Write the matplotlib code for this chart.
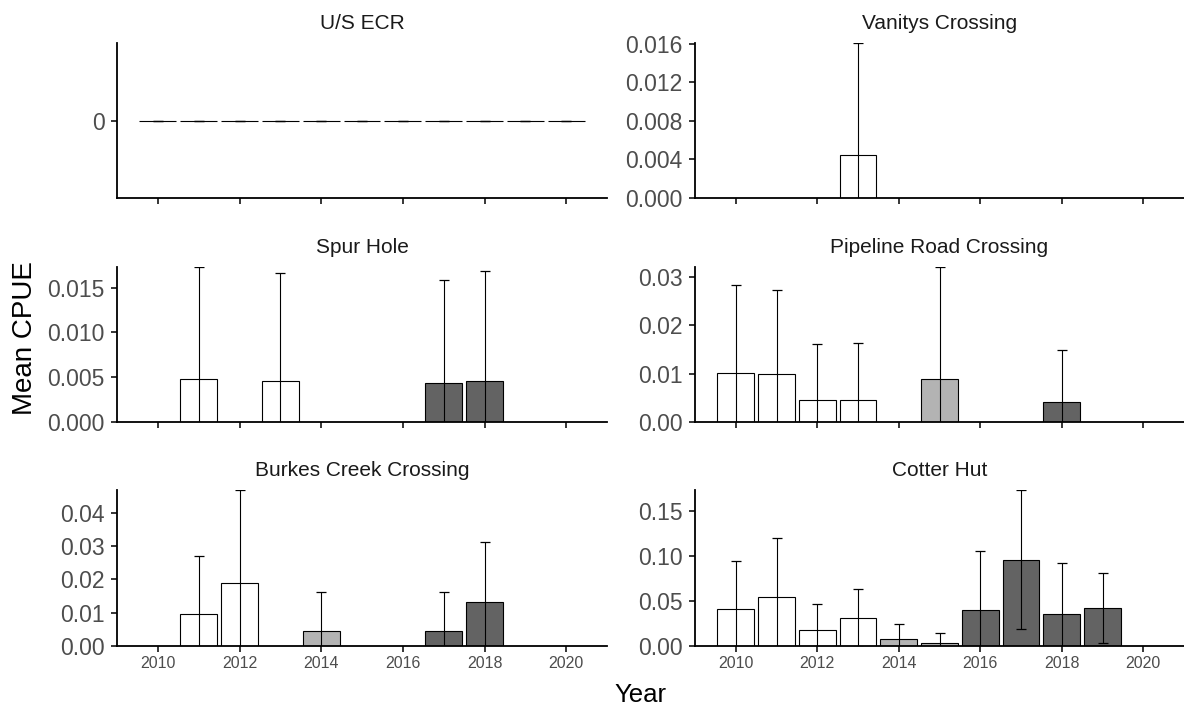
import matplotlib
matplotlib.use('Agg')
import matplotlib.pyplot as plt

plt.rcParams['font.family'] = ['Liberation Sans', 'DejaVu Sans']

sites = ['U/S ECR', 'Vanitys Crossing', 'Spur Hole',
         'Pipeline Road Crossing', 'Burkes Creek Crossing', 'Cotter Hut']

us_ecr_years = [2010, 2011, 2012, 2013, 2014, 2015, 2016, 2017, 2018, 2019, 2020]
us_ecr_mean = [0, 0, 0, 0, 0, 0, 0, 0, 0, 0, 0]
us_ecr_err = [0, 0, 0, 0, 0, 0, 0, 0, 0, 0, 0]

vanitys_years = [2013]
vanitys_mean = [0.0045]
vanitys_err = [0.0116]

spur_years = [2011, 2013, 2017, 2018]
spur_mean = [0.0048, 0.0046, 0.0043, 0.0046]
spur_err = [0.0125, 0.0120, 0.0115, 0.0122]

pipeline_years = [2010, 2011, 2012, 2013, 2015, 2018]
pipeline_mean = [0.0102, 0.0100, 0.0045, 0.0045, 0.0090, 0.0041]
pipeline_err = [0.0182, 0.0174, 0.0117, 0.0119, 0.0231, 0.0109]

burkes_years = [2011, 2012, 2014, 2017, 2018]
burkes_mean = [0.0096, 0.0190, 0.0045, 0.0045, 0.0132]
burkes_err = [0.0174, 0.0278, 0.0116, 0.0116, 0.0181]

cotter_years = [2010, 2011, 2012, 2013, 2014, 2015, 2016, 2017, 2018, 2019]
cotter_mean = [0.0410, 0.0544, 0.0179, 0.0313, 0.0082, 0.0030, 0.0395, 0.0961, 0.0354, 0.0421]
cotter_err = [0.0532, 0.0655, 0.0283, 0.0320, 0.0164, 0.0119, 0.0659, 0.0774, 0.0566, 0.0387]

# management periods: fill colour by first year of each period
period_start = [2010, 2014, 2016]
period_fill = ['white', '#B3B3B3', '#636363']

y_ticks = [
    [0],
    [0.000, 0.004, 0.008, 0.012, 0.016],
    [0.000, 0.005, 0.010, 0.015],
    [0.00, 0.01, 0.02, 0.03],
    [0.00, 0.01, 0.02, 0.03, 0.04],
    [0.00, 0.05, 0.10, 0.15],
]
y_decimals = [0, 3, 3, 2, 2, 2]
x_ticks = [2010, 2012, 2014, 2016, 2018, 2020]

site_data = [
    (us_ecr_years, us_ecr_mean, us_ecr_err),
    (vanitys_years, vanitys_mean, vanitys_err),
    (spur_years, spur_mean, spur_err),
    (pipeline_years, pipeline_mean, pipeline_err),
    (burkes_years, burkes_mean, burkes_err),
    (cotter_years, cotter_mean, cotter_err),
]


def fill_for(year):
    colour = period_fill[0]
    for start, fill in zip(period_start, period_fill):
        if year >= start:
            colour = fill
    return colour


fig = plt.figure(figsize=(11.84, 7.09), dpi=100)

W, H = 1184, 709
col_x = [(117, 607), (695, 1184)]
row_y = [(43, 198), (267, 422), (490, 646)]

for i, (site, (years, mean, err)) in enumerate(zip(sites, site_data)):
    row, col = divmod(i, 2)
    x0, x1 = col_x[col]
    y0, y1 = row_y[row]
    ax = fig.add_axes([x0 / W, 1 - y1 / H, (x1 - x0) / W, (y1 - y0) / H])

    ax.bar(years, mean, width=0.9, color=[fill_for(y) for y in years],
           edgecolor='black', linewidth=0.8, zorder=2)
    ax.errorbar(years, mean, yerr=err, fmt='none', ecolor='black',
                elinewidth=0.8, capsize=3.5, capthick=0.9, zorder=3)

    top = max(m + e for m, e in zip(mean, err))
    if top > 0:
        ax.set_ylim(0, top)
    else:
        ax.set_ylim(-1, 1)
    ax.set_xlim(2009, 2021)

    ax.set_yticks(y_ticks[i])
    ax.set_yticklabels([f'{v:.{y_decimals[i]}f}' for v in y_ticks[i]],
                       fontsize=16.5, color='#4D4D4D')
    ax.set_xticks(x_ticks)
    if row == 2:
        ax.set_xticklabels([str(x) for x in x_ticks], color='#4D4D4D',
                           fontsize=11.5,
                           family=['Liberation Sans Narrow', 'Liberation Sans'])
    else:
        ax.set_xticklabels([])

    for side in ['top', 'right']:
        ax.spines[side].set_visible(False)
    for side in ['left', 'bottom']:
        ax.spines[side].set_linewidth(1.3)
        ax.spines[side].set_color('black')
    ax.tick_params(axis='both', direction='out', length=4, width=1.1, color='black')
    ax.tick_params(axis='y', pad=5)
    ax.tick_params(axis='x', pad=3)

    ax.set_title(site, fontsize=15, color='#1A1A1A', pad=10)

fig.text(0.021, 0.523, 'Mean CPUE', rotation=90, ha='center', va='center',
         fontsize=20)
fig.text(0.541, 0.02, 'Year', ha='center', va='center', fontsize=18.5)

fig.savefig('out.png', dpi=100)
